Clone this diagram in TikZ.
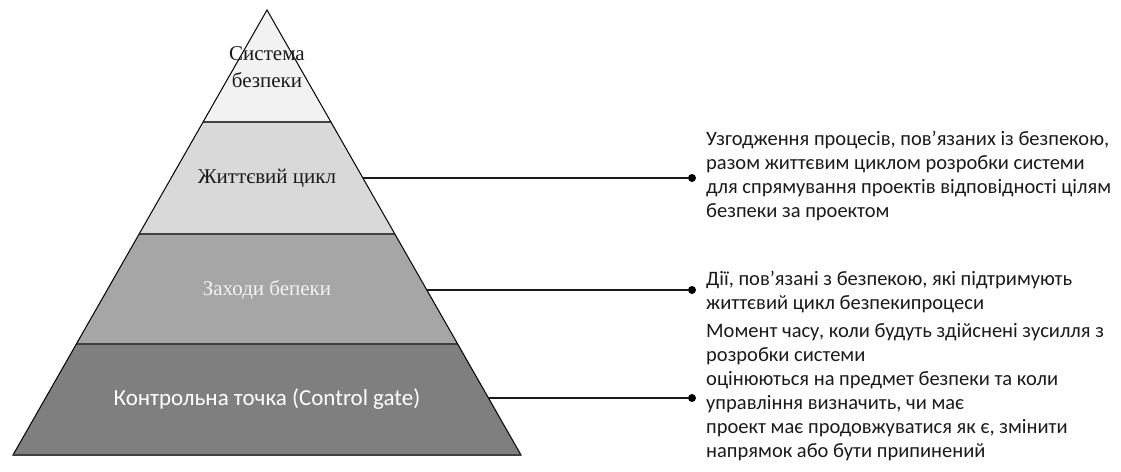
\documentclass[tikz,border=0pt]{standalone}
\usepackage{fontspec}
\setmainfont{Liberation Serif}
\newfontfamily\calibri{Carlito}
\usetikzlibrary{positioning}
\definecolor{tierA}{HTML}{F2F2F2}
\definecolor{tierB}{HTML}{D9D9D9}
\definecolor{tierC}{HTML}{A6A6A6}
\definecolor{tierD}{HTML}{7F7F7F}
\definecolor{ink}{HTML}{1A1A1A}
\tikzset{
  tierlabel/.style={font=\fontsize{21}{27}\selectfont, text=ink, align=center, inner sep=0pt},
  desc/.style={anchor=west, align=left, font=\calibri\fontsize{20.5}{24}\selectfont, text=ink, inner sep=0pt},
  divider/.style={line width=1.8pt, black!75},
  leader/.style={line width=1.4pt, ink},
  dot/.style={circle, fill=black, inner sep=0pt, minimum size=8pt}
}

\begin{document}
\begin{tikzpicture}[x=1pt, y=-1pt]
    \useasboundingbox (0,0) rectangle (1121,471);

    % Tiers of the pyramid (apex at 267,10)
    \foreach \ya/\yb/\c in {10/122/tierA, 122/234/tierB, 234/344/tierC, 344/455/tierD} {
        \fill[\c] ({267-0.571*(\ya-10)},\ya) -- ({267+0.571*(\ya-10)},\ya)
            -- ({267+0.571*(\yb-10)},\yb) -- ({267-0.571*(\yb-10)},\yb) -- cycle;
    }
    \foreach \y in {122,234,344} {
        \draw[divider] ({267-0.571*(\y-10)},\y) -- ({267+0.571*(\y-10)},\y);
    }
    \draw[line width=1pt, line join=miter] (267,10) -- (521,455) -- (13,455) -- cycle;
    \draw[line width=1.8pt, black!75] (13,455) -- (521,455);

    % Labels inside the tiers
    \node[tierlabel] (sys) at (267,67) {Система\\безпеки};
    \node[tierlabel] (life) at (267,178) {Життєвий цикл};
    \node[tierlabel, text=tierA] (meas) at (267,290) {Заходи бепеки};
    \node[tierlabel, font=\calibri\fontsize{23}{27}\selectfont, text=white] (gate) at (267,399) {Контрольна точка (Control gate)};

    % Points on the right edge and dots
    \coordinate (e2) at ({267+0.571*168},178);
    \coordinate (e3) at ({267+0.571*280},290);
    \coordinate (e4) at ({267+0.571*388},398);
    \node[dot] (p2) at (692,178) {};
    \node[dot] (p3) at (692,290) {};
    \node[dot] (p4) at (692,398) {};
    \draw[leader] (e2) -- (p2);
    \draw[leader] (e3) -- (p3);
    \draw[leader] (e4) -- (p4);

    % Descriptions
    \node[desc] (d2) at (706,176) {Узгодження процесів, пов’язаних із безпекою,\\разом життєвим циклом розробки системи\\для спрямування проектів відповідності цілям\\безпеки за проектом};
    \node[desc] (d3) at (706,292) {Дії, пов’язані з безпекою, які підтримують\\життєвий цикл безпекипроцеси};
    \node[desc] (d4) at (706,392) {Момент часу, коли будуть здійснені зусилля з\\розробки системи\\оцінюються на предмет безпеки та коли\\управління визначить, чи має\\проект має продовжуватися як є, змінити\\напрямок або бути припинений};
\end{tikzpicture}
\end{document}
